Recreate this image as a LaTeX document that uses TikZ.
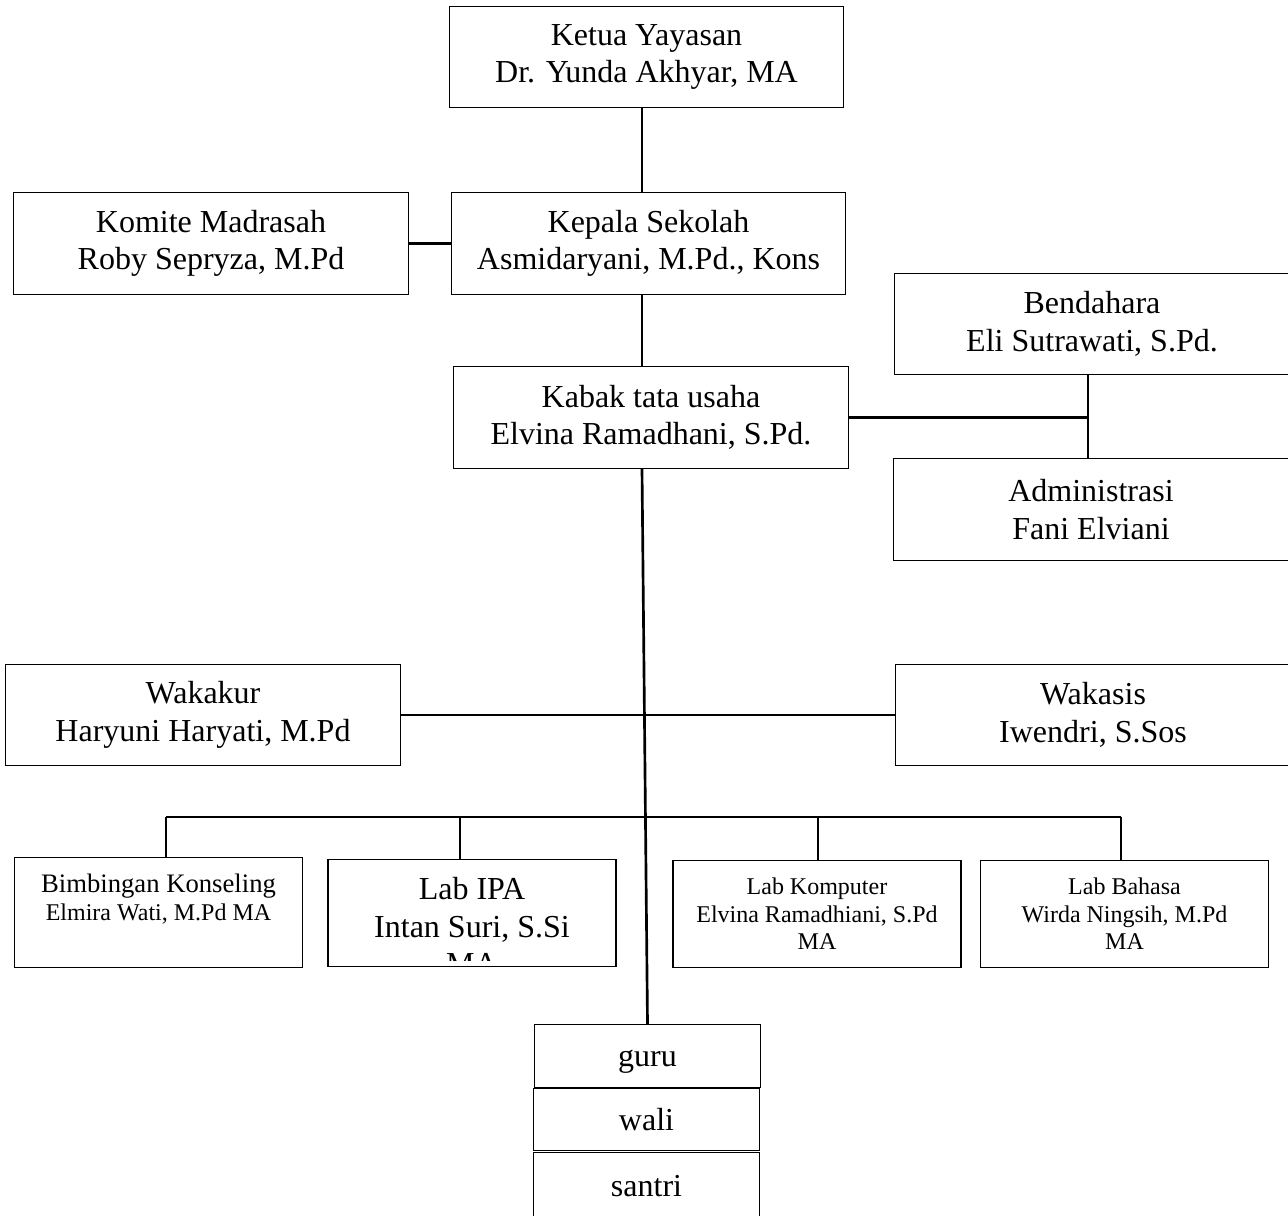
\documentclass[tikz,border=0pt]{standalone}
\usepackage{fontspec}
\setmainfont{Liberation Serif}
\newcommand{\besar}{\fontsize{24}{28}\selectfont}
\newcommand{\kecil}{\fontsize{18}{20.7}\selectfont}

\begin{document}
\begin{tikzpicture}[x=0.75pt,y=-0.75pt,
    jabatan/.style ={draw, line width=0.9pt, align=center, font=\besar, inner sep=0pt,
                     minimum width=296pt, minimum height=76pt},
    labbox/.style ={jabatan, font=\kecil, minimum width=216pt, minimum height=80pt},
    anggota/.style ={jabatan, minimum width=169pt, minimum height=47pt,
                     text height=19.5pt, text depth=3.5pt},
    garis/.style ={line width=2pt}]
   \useasboundingbox (0,0) rectangle (1288,1216);

   \node[jabatan] (ketua) at (646.5,57) {Ketua Yayasan\\Dr. Yunda Akhyar, MA};
   \node[jabatan] (komite) at (211,243.5) {Komite Madrasah\\Roby Sepryza, M.Pd};
   \node[jabatan] (kepala) at (648.5,243.5) {Kepala Sekolah\\Asmidaryani, M.Pd., Kons};
   \node[jabatan] (bendahara) at (1092,324) {Bendahara\\Eli Sutrawati, S.Pd.};
   \node[jabatan] (kabak) at (651,417.5) {Kabak tata usaha\\Elvina Ramadhani, S.Pd.};
   \node[jabatan] (admin) at (1091,509.5) {Administrasi\\Fani Elviani};
   \node[jabatan] (wakakur) at (203,715) {Wakakur\\Haryuni Haryati, M.Pd};
   \node[jabatan] (wakasis) at (1093,715) {Wakasis\\Iwendri, S.Sos};

   \node[labbox, minimum height=82pt] (konseling) at (158.5,912.5)
      {{\fontsize{20}{20.7}\selectfont Bimbingan Konseling}\\Elmira Wati, M.Pd MA\\[-4pt]\strut};
   \node[labbox] (labipa) at (472,913) {};
   \begin{scope}
     \clip ([yshift=5pt]labipa.south west) rectangle (labipa.north east);
     \node[align=center, font=\besar] (labipateks) at (472,926) {Lab IPA\\Intan Suri, S.Si\\MA};
   \end{scope}
   \node[labbox] (labkomputer) at (817,914) {Lab Komputer\\Elvina Ramadhiani, S.Pd\\MA};
   \node[labbox] (labbahasa) at (1124.5,914) {Lab Bahasa\\Wirda Ningsih, M.Pd\\MA};

   \node[anggota] (guru) at (647.5,1056) {guru};
   \node[anggota] (wali) at (646.5,1119.5) {wali};
   \node[anggota, minimum height=50pt] (santri) at (646.5,1186) {santri};

   \coordinate (tulang) at (642,0);
   \coordinate (staf) at (1088,419);
   \coordinate (cabang1) at (166,817);
   \coordinate (cabang2) at (460,817);
   \coordinate (cabang3) at (818,817);
   \coordinate (cabang4) at (1121,817);

   \draw[garis] (ketua.south -| tulang) -- (kepala.north -| tulang);
   \draw[garis] (komite) -- (kepala);
   \draw[garis] (kepala.south -| tulang) -- (kabak.north -| tulang);
   \draw[garis] (kabak.east) -- (kabak.east -| staf);
   \draw[garis] (bendahara.south -| staf) -- (admin.north -| staf);
   \draw[garis] (kabak.south -| tulang) -- (guru.north);
   \draw[garis] (wakakur) -- (wakasis);
   \draw[garis] (cabang1) -- (cabang4);
   \draw[garis] (cabang1) -- (cabang1 |- konseling.north);
   \draw[garis] (cabang2) -- (cabang2 |- labipa.north);
   \draw[garis] (cabang3) -- (cabang3 |- labkomputer.north);
   \draw[garis] (cabang4) -- (cabang4 |- labbahasa.north);
 \end{tikzpicture}
\end{document}
